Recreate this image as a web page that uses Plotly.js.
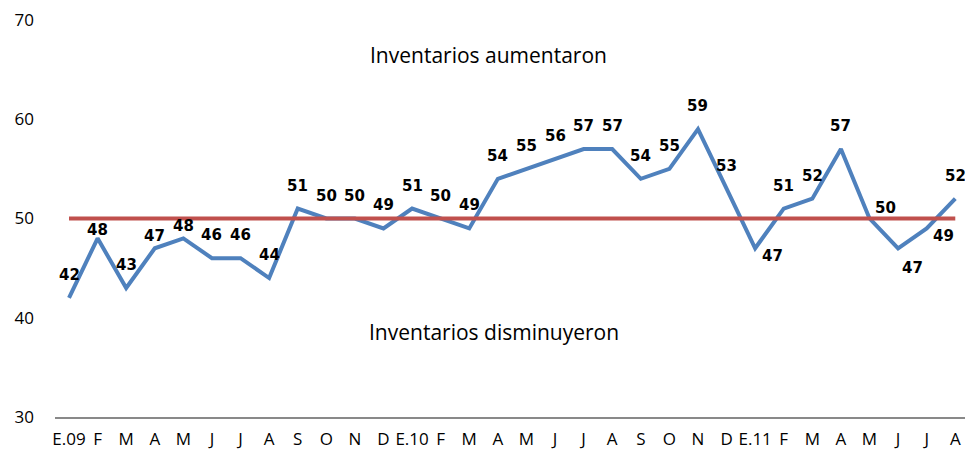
<!DOCTYPE html>
<html>
<head>
<meta charset="utf-8">
<script src="https://cdn.plot.ly/plotly-3.0.1.min.js"></script>
<style>html,body{margin:0;padding:0;background:#fff;}#chart{width:965px;height:456px;}</style>
</head>
<body>
<div id="chart"></div>
<script>
// Categories (months Jan 2009 – Aug 2011)
var monthLabels = ['E.09','F','M','A','M','J','J','A','S','O','N','D',
                   'E.10','F','M','A','M','J','J','A','S','O','N','D',
                   'E.11','F','M','A','M','J','J','A'];
// Inventory index values
var inventario = [42,48,43,47,48,46,46,44,51,50,50,49,
                  51,50,49,54,55,56,57,57,54,55,59,53,
                  47,51,52,57,50,47,49,52];
// Neutral reference level
var referencia = [50,50,50,50,50,50,50,50,50,50,50,50,
                  50,50,50,50,50,50,50,50,50,50,50,50,
                  50,50,50,50,50,50,50,50];
// Data-label placement keyword per point
var labelPos = ['t','tv','t','tn','tn','t','t','t','t','t','t','t',
                't','t','t','t','t','t','t','t','t','t','t','t',
                'r','t','t','t','tr','br','r','t'];
var yTicks = [30,40,50,60,70];

var idx = monthLabels.map(function(_, i){ return i; });

var shifts = {
  t:  {x: 0,  y: 23},
  tn: {x: 0,  y: 12},
  tv: {x: 0,  y: 8},
  r:  {x: 17, y: -8},
  tr: {x: 16, y: 11},
  br: {x: 14, y: -20}
};

var annotations = inventario.map(function(v, i){
  var s = shifts[labelPos[i]];
  return {
    x: idx[i], y: v, xref: 'x', yref: 'y',
    text: '<b>' + v + '</b>', showarrow: false,
    xshift: s.x, yshift: s.y,
    xanchor: 'center', yanchor: 'middle',
    font: {family: 'DejaVu Sans', size: 15, color: '#000'}
  };
});

var textFont = {family: 'Open Sans', size: 21, color: '#000'};
annotations.push({
  x: 14.69, y: 66.47, xref: 'x', yref: 'y', xanchor: 'center', yanchor: 'middle',
  text: 'Inventarios aumentaron', showarrow: false, font: textFont
});
annotations.push({
  x: 14.87, y: 38.56, xref: 'x', yref: 'y', xanchor: 'center', yanchor: 'middle',
  text: 'Inventarios disminuyeron', showarrow: false, font: textFont
});

var traces = [
  {
    x: idx, y: inventario, type: 'scatter', mode: 'lines',
    line: {color: '#4F81BD', width: 4}, hoverinfo: 'y'
  },
  {
    x: idx, y: referencia, type: 'scatter', mode: 'lines',
    line: {color: '#C0504D', width: 4}, hoverinfo: 'y'
  }
];

var layout = {
  width: 965, height: 456,
  margin: {l: 55, r: 0, t: 20, b: 39},
  paper_bgcolor: '#fff', plot_bgcolor: '#fff',
  showlegend: false,
  xaxis: {
    range: [-0.49, 31.34],
    tickvals: idx, ticktext: monthLabels,
    showgrid: false, zeroline: false,
    showline: true, linecolor: '#898989', linewidth: 2,
    ticks: '', ticklabelstandoff: 6,
    tickfont: {family: 'Open Sans', size: 17, color: '#000'}
  },
  yaxis: {
    range: [30, 70], tickvals: yTicks,
    showgrid: false, zeroline: false, showline: false,
    ticks: '', ticklabelstandoff: 20,
    tickfont: {family: 'Open Sans', size: 17, color: '#000'}
  },
  annotations: annotations
};

Plotly.newPlot('chart', traces, layout, {displayModeBar: false, staticPlot: true});
</script>
</body>
</html>
